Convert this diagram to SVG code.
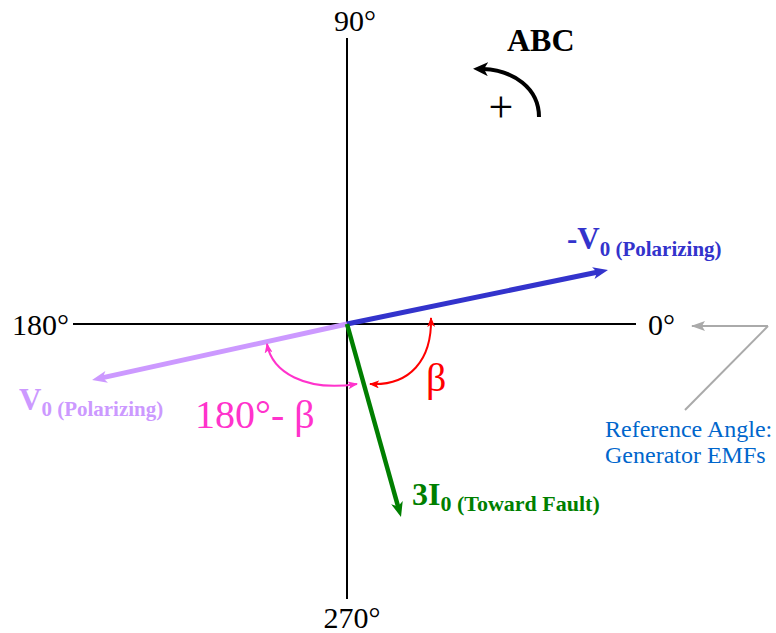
<svg xmlns="http://www.w3.org/2000/svg" width="776" height="633" viewBox="0 0 776 633">
<style>
text{font-family:"Liberation Serif","Times New Roman",serif}
.ax{font-size:30px;fill:#000}
.b{font-weight:bold}
.axis{stroke:#000;stroke-width:2;fill:none}
</style>
<defs>
<marker id="mBlue" markerUnits="userSpaceOnUse" markerWidth="16" markerHeight="12" refX="5" refY="6" orient="auto"><path d="M0,0 L15,6 L0,12 L4,6 z" fill="#3333cc"/></marker>
<marker id="mPurple" markerUnits="userSpaceOnUse" markerWidth="16" markerHeight="12" refX="5" refY="6" orient="auto"><path d="M0,0 L15,6 L0,12 L4,6 z" fill="#cc99ff"/></marker>
<marker id="mGreen" markerUnits="userSpaceOnUse" markerWidth="16" markerHeight="12" refX="5" refY="6" orient="auto"><path d="M0,0 L15,6 L0,12 L4,6 z" fill="#007f00"/></marker>
<marker id="mRed" markerUnits="userSpaceOnUse" markerWidth="10" markerHeight="8" refX="9" refY="4" orient="auto-start-reverse"><path d="M0,0 L10,4 L0,8 L2.5,4 z" fill="#ff0000"/></marker>
<marker id="mMag" markerUnits="userSpaceOnUse" markerWidth="10" markerHeight="8" refX="9" refY="4" orient="auto-start-reverse"><path d="M0,0 L10,4 L0,8 L2.5,4 z" fill="#ff33cc"/></marker>
<marker id="mGray" markerUnits="userSpaceOnUse" markerWidth="14" markerHeight="10" refX="13" refY="5" orient="auto"><path d="M0,0 L14,5 L0,10 L3,5 z" fill="#aaaaaa"/></marker>
<marker id="mBlack" markerUnits="userSpaceOnUse" markerWidth="16" markerHeight="14" refX="5" refY="7" orient="auto"><path d="M0,0 L15,7 L0,14 L4,7 z" fill="#000"/></marker>
</defs>
<g id="axes">
<line class="axis" x1="73" y1="324" x2="636" y2="324"/>
<line class="axis" x1="347" y1="38" x2="347" y2="599"/>
<text class="ax" x="355" y="31" text-anchor="middle">90°</text>
<text class="ax" x="352" y="628" text-anchor="middle">270°</text>
<text class="ax" x="12" y="335">180°</text>
<text class="ax" x="648" y="335">0°</text>
</g>
<g id="rotation">
<path d="M539,117 C539,88 513,70 483,69" fill="none" stroke="#000" stroke-width="4" marker-end="url(#mBlack)"/>
<text class="b" x="507" y="51" font-size="32">ABC</text>
<text x="501" y="122" font-size="44" text-anchor="middle">+</text>
</g>
<g id="connectors">
<line x1="347" y1="324" x2="598.2" y2="272" stroke="#3333cc" stroke-width="5" marker-end="url(#mBlue)"/>
<line x1="347" y1="324" x2="101.8" y2="377.9" stroke="#cc99ff" stroke-width="5" marker-end="url(#mPurple)"/>
<line x1="347" y1="324" x2="398.3" y2="507.4" stroke="#007f00" stroke-width="4.5" marker-end="url(#mGreen)"/>
<path d="M431,318 C432,360 410,386 370,384" fill="none" stroke="#ff0000" stroke-width="2" marker-start="url(#mRed)" marker-end="url(#mRed)"/>
<path d="M267,344 C272,372 305,392 357,384" fill="none" stroke="#ff33cc" stroke-width="2" marker-start="url(#mMag)" marker-end="url(#mMag)"/>
<line x1="768" y1="326" x2="692" y2="326" stroke="#aaaaaa" stroke-width="2" marker-end="url(#mGray)"/>
<line x1="768" y1="326" x2="685" y2="410" stroke="#aaaaaa" stroke-width="2"/>
</g>
<g id="negV0">
<text class="b" x="567" y="249" font-size="31" fill="#3333cc">-V<tspan font-size="21" dy="7">0 (Polarizing)</tspan></text>
</g>
<g id="V0">
<text class="b" x="19" y="410" font-size="31" fill="#cc99ff">V<tspan font-size="21" dy="6">0 (Polarizing)</tspan></text>
</g>
<g id="I0">
<text class="b" x="412" y="505" font-size="32" fill="#007f00">3I<tspan font-size="22" dy="6">0 (Toward Fault)</tspan></text>
</g>
<g id="beta">
<text x="426" y="391" font-size="40" fill="#ff0000">β</text>
</g>
<g id="beta180">
<text x="195" y="428" font-size="40" fill="#ff33cc">180°- β</text>
</g>
<g id="reference">
<text x="605" y="437" font-size="24" fill="#0066cc">Reference Angle:</text>
<text x="605" y="463" font-size="24" fill="#0066cc">Generator EMFs</text>
</g>
</svg>
